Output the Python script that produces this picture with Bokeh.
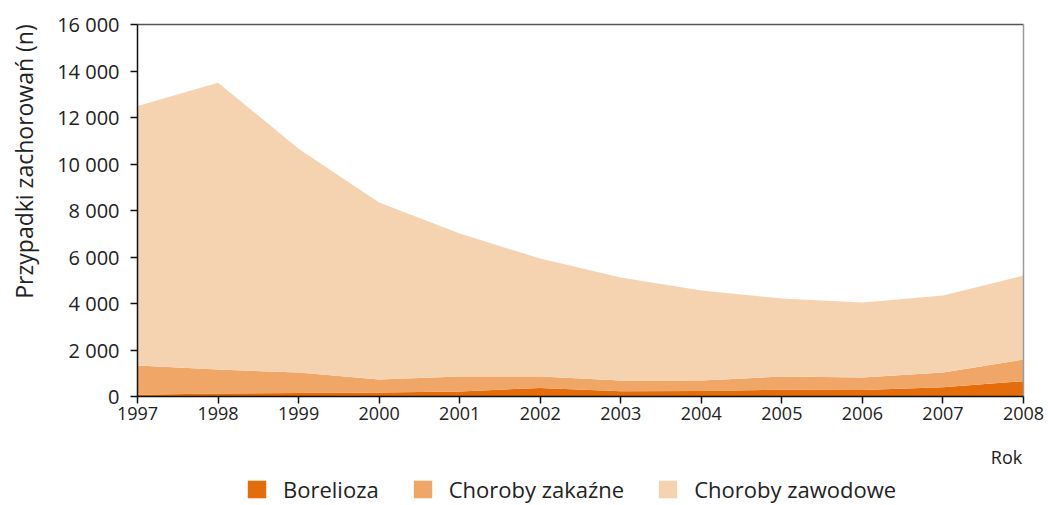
import math
from bokeh.plotting import figure
from bokeh.models import ColumnDataSource, FixedTicker, Legend, LegendItem, Range1d, Label
from bokeh.embed import file_html
from bokeh.resources import INLINE

years = [1997, 1998, 1999, 2000, 2001, 2002, 2003, 2004, 2005, 2006, 2007, 2008]
borelioza = [70, 130, 150, 170, 215, 370, 230, 240, 290, 280, 400, 660]
zakazne = [1260, 1030, 880, 560, 645, 490, 460, 450, 570, 540, 630, 930]
zawodowe = [11170, 12340, 9630, 7610, 6150, 5075, 4430, 3870, 3355, 3225, 3310, 3610]

series_names = ["Borelioza", "Choroby zakaźne", "Choroby zawodowe"]
colors = ["#E46C0A", "#EFA666", "#F6D3B0"]

y_ticks = [0, 2000, 4000, 6000, 8000, 10000, 12000, 14000, 16000]
y_tick_labels = ["0", "2 000", "4 000", "6 000", "8 000", "10 000", "12 000", "14 000", "16 000"]
x_ticks = years
x_tick_labels = [str(y) for y in years]

FONT = "Open Sans"
TXT = "#222222"

# canvas geometry (pixels): the whole canvas is the frame; axes sit at fixed data locations
W, H = 1054, 505
PX_L, PX_R, PX_T, PX_B = 137, 1023, 24, 396
x0, x1 = years[0], years[-1]
y0, y1 = y_ticks[0], y_ticks[-1]
xpp = (x1 - x0) / (PX_R - PX_L)
ypp = (y1 - y0) / (PX_B - PX_T)
x_range = Range1d(x0 - PX_L * xpp, x1 + (W - PX_R) * xpp)
y_range = Range1d(y0 - (H - PX_B) * ypp, y1 + PX_T * ypp)

src = ColumnDataSource(dict(year=years, b=borelioza, z=zakazne, w=zawodowe))

p = figure(width=W, height=H, output_backend="svg", toolbar_location=None,
           x_range=x_range, y_range=y_range, min_border=0)

renderers = p.varea_stack(stackers=["b", "z", "w"], x="year", color=colors, source=src)

p.xgrid.visible = False
p.ygrid.visible = False
p.outline_line_color = None
p.background_fill_color = "white"
p.border_fill_color = "white"

# plot-area border: top (dark) and right (grey)
p.segment(x0=[x0], y0=[y1], x1=[x1], y1=[y1], line_color="#555555", line_width=1.5)
p.segment(x0=[x1], y0=[y0], x1=[x1], y1=[y1], line_color="#9a9a9a", line_width=1.5)


def style_axis(ax, ticks, labels, size):
    ax.ticker = FixedTicker(ticks=ticks)
    ax.major_label_overrides = {t: l for t, l in zip(ticks, labels)}
    ax.axis_line_color = "#111111"
    ax.axis_line_width = 1.5
    ax.major_tick_line_color = "#111111"
    ax.major_tick_line_width = 1.5
    ax.major_tick_out = 7
    ax.major_tick_in = 0
    ax.minor_tick_line_color = None
    ax.major_label_text_font = FONT
    ax.major_label_text_font_size = size
    ax.major_label_text_color = TXT


yax = p.yaxis[0]
style_axis(yax, y_ticks, y_tick_labels, "20px")
yax.major_label_standoff = 11
yax.bounds = (y0, y1)
yax.fixed_location = x0

xax = p.xaxis[0]
style_axis(xax, x_ticks, x_tick_labels, "18px")
xax.major_label_standoff = 3
xax.bounds = (x0, x1)
xax.fixed_location = y0

# y axis title
p.add_layout(Label(x=23, y=H - 161, x_units="screen", y_units="screen",
                   text="Przypadki zachorowań (n)", angle=math.pi / 2,
                   text_align="center", text_baseline="middle",
                   text_font=FONT, text_font_size="23px", text_color=TXT))
# x axis title
p.add_layout(Label(x=1006, y=H - 456, x_units="screen", y_units="screen",
                   text="Rok", text_align="center", text_baseline="middle",
                   text_font=FONT, text_font_size="18px", text_color=TXT))

items = [LegendItem(label=n, renderers=[r]) for n, r in zip(series_names, renderers)]
legend = Legend(items=items, orientation="horizontal", location=(245, 1),
                glyph_width=23, glyph_height=22, label_standoff=15, spacing=32,
                padding=0, margin=0, border_line_color=None, background_fill_alpha=0,
                label_text_font=FONT, label_text_font_size="22px", label_text_color=TXT)
p.add_layout(legend, "center")

open("out.html", "w").write(file_html(p, INLINE))
